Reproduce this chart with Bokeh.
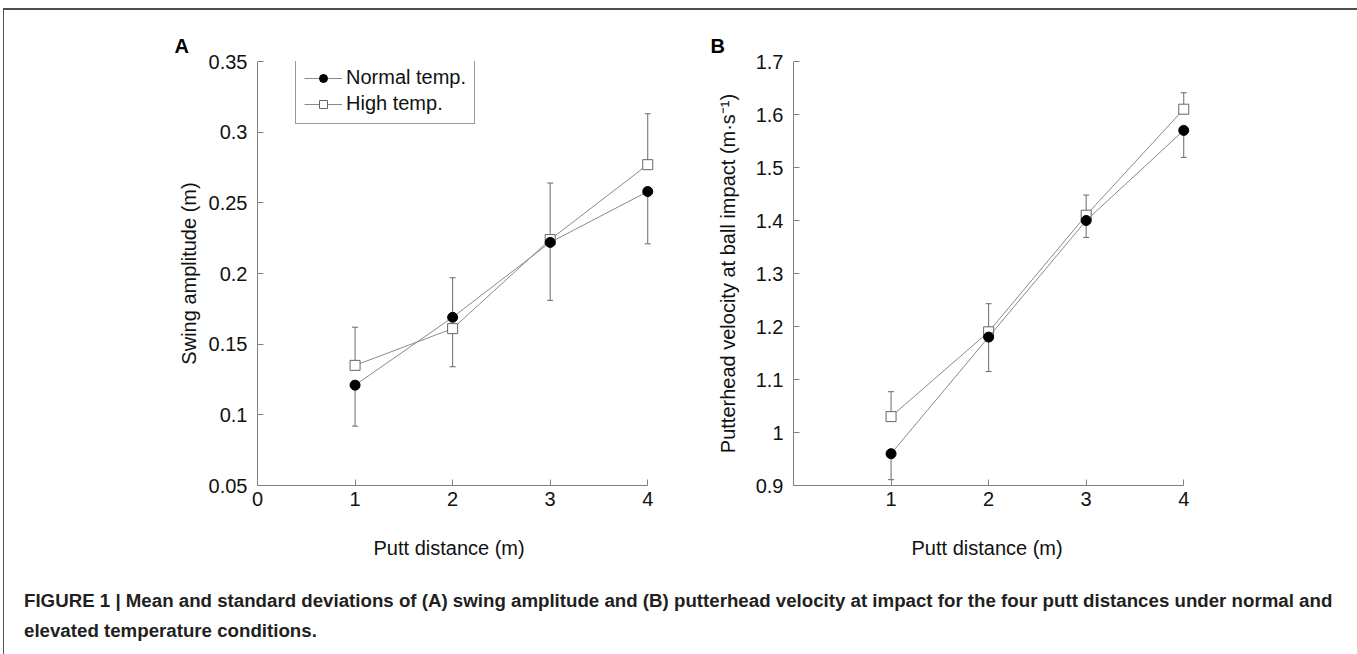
from bokeh.plotting import figure
from bokeh.models import (Range1d, FixedTicker, CustomJSTickFormatter, Legend,
                          LegendItem, Div, Title)
from bokeh.layouts import row, column
from bokeh.embed import file_html
from bokeh.resources import INLINE

# ---- data ----
distance = [1, 2, 3, 4]

amp_normal = [0.121, 0.169, 0.222, 0.258]
amp_normal_sd = [0.029, 0.028, 0.041, 0.037]
amp_high = [0.135, 0.161, 0.224, 0.277]
amp_high_sd = [0.027, 0.027, 0.040, 0.036]

vel_normal = [0.96, 1.18, 1.40, 1.57]
vel_normal_sd = [0.049, 0.065, 0.032, 0.051]
vel_high = [1.03, 1.19, 1.41, 1.61]
vel_high_sd = [0.047, 0.053, 0.038, 0.031]

amp_yticks = [0.05, 0.10, 0.15, 0.20, 0.25, 0.30, 0.35]
vel_yticks = [0.9, 1.0, 1.1, 1.2, 1.3, 1.4, 1.5, 1.6, 1.7]
amp_xticks = [0, 1, 2, 3, 4]
vel_xticks = [1, 2, 3, 4]

series_names = ["Normal temp.", "High temp."]
xlabel = "Putt distance (m)"
amp_ylabel = "Swing amplitude (m)"
vel_ylabel = "Putterhead velocity at ball impact (m\u00b7s\u207b\u00b9)"
caption_line1 = ("FIGURE 1 | Mean and standard deviations of (A) swing amplitude and (B) "
                 "putterhead velocity at impact for the four putt distances under normal and")
caption_line2 = "elevated temperature conditions."

FONT = "Liberation Sans"
AXIS_COL = "#808080"
TXT_COL = "#111111"
LINE_COL = "#8a8a8a"
ERR_COL = "#6a6a6a"
FRAME_W = 400
FRAME_H = 424


def error_ends(mean, sd, other):
    # the upper series at each distance carries an upward bar, the lower one a downward bar
    return [m + s if m >= o else m - s for m, s, o in zip(mean, sd, other)]


def make_panel(normal, normal_sd, high, high_sd, yticks, xticks, ylabel, letter,
               ystart, yend, min_left, min_right, fmt_digits, ylabel_standoff, xlabel_offset):
    p = figure(output_backend="svg", toolbar_location=None,
               frame_width=FRAME_W, frame_height=FRAME_H,
               min_border_left=min_left, min_border_right=min_right,
               min_border_top=51, min_border_bottom=85,
               x_range=Range1d(0, 4.1), y_range=Range1d(ystart, yend))
    p.outline_line_color = None
    p.grid.visible = False
    p.background_fill_color = "white"
    p.border_fill_color = "white"

    # panel letter as a left-aligned title pushed out to the left of the frame
    p.title.text = letter
    p.title.align = "left"
    p.title.offset = -83
    p.title.standoff = 10
    p.title.text_font = FONT
    p.title.text_font_size = "20px"
    p.title.text_font_style = "bold"
    p.title.text_color = "black"

    fmt = CustomJSTickFormatter(code="return String(parseFloat(tick.toFixed(%d)));" % fmt_digits)
    for ax in (p.xaxis[0], p.yaxis[0]):
        ax.axis_line_color = AXIS_COL
        ax.major_tick_line_color = AXIS_COL
        ax.major_tick_in = 6
        ax.major_tick_out = 0
        ax.minor_tick_line_color = None
        ax.major_label_text_font = FONT
        ax.major_label_text_font_size = "20px"
        ax.major_label_text_color = TXT_COL
        ax.axis_label_text_font = FONT
        ax.axis_label_text_font_size = "20px"
        ax.axis_label_text_font_style = "normal"
        ax.axis_label_text_color = TXT_COL
    p.xaxis.ticker = FixedTicker(ticks=xticks)
    p.xaxis.bounds = (0, 4)
    p.xaxis.major_label_standoff = 6
    p.yaxis.ticker = FixedTicker(ticks=yticks)
    p.yaxis.formatter = fmt
    p.yaxis.axis_label = ylabel
    p.yaxis.major_label_standoff = 10
    p.yaxis.axis_label_standoff = ylabel_standoff

    # x-axis label centred under the 0..4 axis line (the frame runs a little past 4)
    p.add_layout(Title(text=xlabel, align="left", offset=xlabel_offset, standoff=53,
                       text_font=FONT, text_font_size="20px", text_font_style="normal",
                       text_color=TXT_COL), "below")

    n_end = error_ends(normal, normal_sd, high)
    h_end = error_ends(high, high_sd, normal)

    # error bars
    for mean, end in ((high, h_end), (normal, n_end)):
        p.segment(x0=distance, y0=mean, x1=distance, y1=end, line_color=ERR_COL, line_width=1)
        p.scatter(x=distance, y=end, marker="dash", size=6, line_color=ERR_COL, line_width=1)

    # high temp series (drawn first, underneath)
    hl = p.line(distance, high, line_color=LINE_COL, line_width=1)
    hs = p.scatter(distance, high, marker="square", size=10, fill_color="white",
                   line_color="#666666", line_width=1)
    # normal temp series
    nl = p.line(distance, normal, line_color=LINE_COL, line_width=1)
    ns = p.scatter(distance, normal, marker="circle", size=10, fill_color="black",
                   line_color="black")
    return p, (nl, ns), (hl, hs)


pA, nA, hA = make_panel(amp_normal, amp_normal_sd, amp_high, amp_high_sd, amp_yticks,
                        amp_xticks, amp_ylabel, "A", 0.05, 0.35, 253, 30, 2, 6, 116)
pB, nB, hB = make_panel(vel_normal, vel_normal_sd, vel_high, vel_high_sd, vel_yticks,
                        vel_xticks, vel_ylabel, "B", 0.9, 1.7, 106, 161, 1, 14, 118)

legend = Legend(items=[LegendItem(label=series_names[0], renderers=list(nA)),
                       LegendItem(label=series_names[1], renderers=list(hA))],
                location=(38, 361))
legend.border_line_color = "#333333"
legend.border_line_width = 1
legend.background_fill_color = "white"
legend.background_fill_alpha = 1
legend.padding = 8
legend.spacing = 3
legend.margin = 0
legend.label_standoff = 4
legend.glyph_width = 38
legend.glyph_height = 20
legend.label_height = 20
legend.label_text_font = FONT
legend.label_text_font_size = "20px"
legend.label_text_color = TXT_COL
pA.add_layout(legend)

caption = Div(
    text=("<div style=\"margin-top:-4px; padding:0 0 0 15px; font-family:'Liberation Sans', Arial, sans-serif; "
          "font-weight:bold; font-size:18.7px; line-height:30px; color:#231f20; white-space:nowrap;\">"
          + caption_line1 + "<br>" + caption_line2 + "</div>"),
    width=1350, height=66)

layout = column(row(pA, pB), caption,
                styles={"margin-top": "8px", "margin-left": "3px",
                        "border-top": "2px solid #4d4d4d", "border-left": "1px solid #555555",
                        "border-right": "2px solid #777777"})

open("out.html", "w").write(file_html(layout, INLINE))
